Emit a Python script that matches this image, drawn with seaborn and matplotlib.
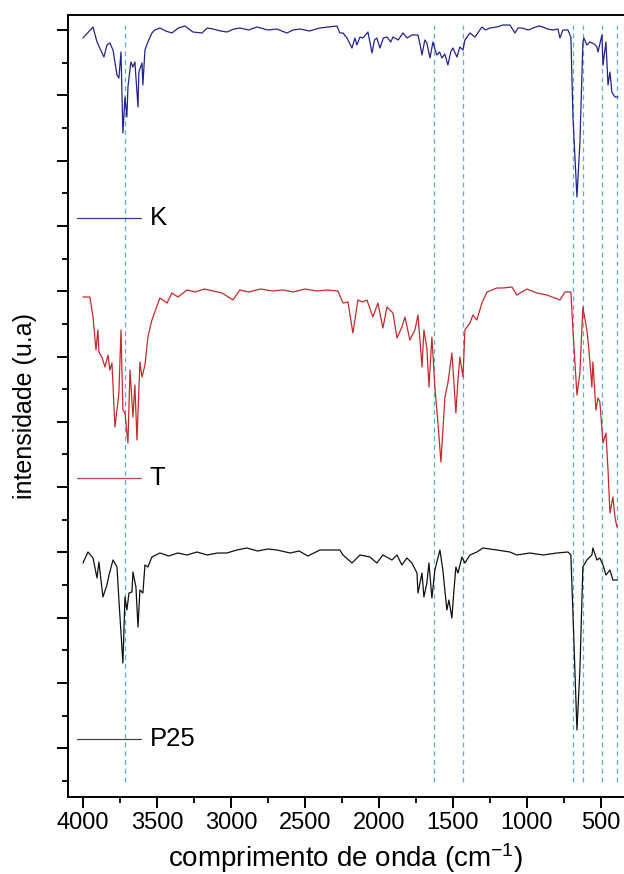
import numpy as np
import pandas as pd
import matplotlib
matplotlib.use("Agg")
import matplotlib.pyplot as plt
import seaborn as sns
from matplotlib.ticker import FixedLocator

# ---------------- data ----------------
samples = ["K", "T", "P25"]

k_wn = [4000, 3932, 3905, 3858, 3838, 3818, 3797, 3770, 3757, 3743, 3730, 3716, 3703, 3696,
        3676, 3662, 3649, 3628, 3622, 3601, 3595, 3581, 3561, 3534, 3514, 3480, 3440, 3399,
        3355, 3311, 3257, 3196, 3160, 3122, 3070, 3027, 2980, 2939, 2880, 2824, 2750, 2690,
        2622, 2580, 2534, 2470, 2399, 2340, 2284, 2264, 2243, 2216, 2182, 2162, 2149, 2128,
        2108, 2074, 2047, 2030, 2014, 1993, 1970, 1946, 1920, 1905, 1870, 1838, 1810, 1777,
        1736, 1720, 1709, 1690, 1676, 1655, 1635, 1620, 1608, 1590, 1574, 1555, 1534, 1515,
        1500, 1473, 1453, 1432, 1419, 1385, 1351, 1304, 1280, 1250, 1203, 1162, 1115, 1081,
        1060, 1034, 990, 959, 920, 892, 860, 824, 790, 777, 757, 723, 703, 689, 662, 642,
        622, 615, 595, 574, 545, 527, 520, 493, 486, 466, 452, 439, 426, 405, 385]
k_int = [762, 773, 758, 743, 755, 757, 750, 725, 722, 748, 667, 703, 683, 713,
         738, 733, 738, 693, 728, 737, 715, 750, 758, 767, 770, 772, 769, 767,
         772, 774, 768, 767, 772, 771, 769, 768, 771, 772, 770, 773, 770, 771,
         767, 770, 771, 769, 772, 773, 774, 767, 767, 762, 752, 762, 755, 763,
         762, 768, 747, 760, 762, 752, 762, 763, 758, 763, 760, 767, 762, 765,
         765, 754, 745, 760, 757, 742, 758, 750, 745, 748, 742, 746, 735, 748,
         752, 743, 753, 750, 760, 767, 763, 773, 770, 772, 773, 775, 775, 767,
         772, 772, 770, 772, 774, 773, 771, 770, 771, 762, 770, 770, 763, 683, 603, 657,
         757, 762, 755, 758, 756, 753, 748, 765, 735, 758, 715, 728, 708, 703, 703]

t_wn = [4000, 3953, 3932, 3912, 3899, 3892, 3872, 3851, 3831, 3818, 3804, 3784, 3770, 3757,
        3743, 3730, 3716, 3696, 3682, 3662, 3649, 3635, 3615, 3601, 3581, 3561, 3534, 3514,
        3480, 3432, 3399, 3358, 3297, 3240, 3180, 3120, 3060, 2986, 2940, 2880, 2800, 2720,
        2650, 2580, 2500, 2420, 2350, 2277, 2243, 2209, 2176, 2142, 2110, 2081, 2041, 2007,
        1973, 1946, 1905, 1878, 1845, 1824, 1791, 1757, 1736, 1709, 1696, 1676, 1662, 1642,
        1622, 1601, 1581, 1554, 1534, 1507, 1493, 1480, 1466, 1453, 1432, 1419, 1385, 1365,
        1338, 1304, 1270, 1203, 1162, 1101, 1068, 1000, 932, 865, 777, 743, 703, 689, 662,
        642, 622, 595, 581, 561, 554, 534, 520, 507, 486, 466, 452, 439, 419, 405, 392]
t_int = [503, 503, 483, 450, 470, 448, 443, 433, 445, 430, 437, 373, 390, 407,
         470, 390, 387, 357, 430, 383, 415, 360, 438, 423, 435, 463, 480, 488,
         502, 497, 507, 503, 510, 508, 511, 509, 507, 500, 510, 508, 511, 509,
         510, 508, 511, 509, 510, 509, 497, 498, 467, 500, 498, 500, 483, 497,
         472, 493, 487, 462, 473, 483, 460, 470, 485, 433, 470, 452, 413, 463,
         413, 377, 338, 403, 417, 447, 417, 387, 420, 443, 423, 470, 477, 485,
         480, 497, 508, 512, 512, 513, 505, 511, 507, 505, 500, 508, 508, 470, 405,
         427, 493, 470, 450, 413, 438, 390, 402, 398, 357, 367, 330, 287, 303, 283, 273]

p_wn = [4000, 3966, 3932, 3905, 3892, 3865, 3838, 3824, 3797, 3770, 3757, 3730, 3716, 3703,
        3689, 3669, 3662, 3642, 3628, 3615, 3595, 3581, 3561, 3534, 3480, 3420, 3360, 3297,
        3230, 3160, 3090, 3027, 2960, 2892, 2820, 2750, 2689, 2600, 2540, 2480, 2399, 2330,
        2264, 2243, 2182, 2128, 2061, 2014, 1973, 1912, 1878, 1845, 1811, 1777, 1743, 1736,
        1709, 1696, 1676, 1662, 1642, 1622, 1588, 1568, 1541, 1527, 1507, 1493, 1480, 1466,
        1439, 1419, 1385, 1338, 1297, 1203, 1115, 1068, 980, 892, 797, 723, 703, 689, 662,
        642, 622, 595, 561, 554, 527, 507, 486, 466, 439, 419, 392]
p_int = [237, 248, 242, 222, 238, 203, 215, 225, 240, 233, 200, 137, 203, 190,
         207, 208, 228, 213, 173, 210, 207, 235, 233, 243, 247, 244, 247, 245,
         248, 245, 247, 247, 250, 252, 249, 251, 250, 247, 249, 244, 250, 250,
         250, 245, 237, 245, 243, 237, 245, 240, 245, 235, 242, 237, 227, 207,
         227, 203, 217, 237, 202, 230, 250, 230, 190, 200, 182, 210, 233, 227,
         243, 237, 245, 248, 252, 250, 248, 245, 247, 245, 247, 248, 245, 187, 70,
         130, 233, 240, 245, 252, 240, 242, 235, 225, 230, 220, 220]

band_positions = [3716, 1630, 1430, 690, 622, 495, 393]
x_ticks = [4000, 3500, 3000, 2500, 2000, 1500, 1000, 500]
x_tick_labels = ["4000", "3500", "3000", "2500", "2000", "1500", "1000", "500"]

colors = {"K": "#23238a", "T": "#c42a2a", "P25": "#111111"}
legend_colors = {"K": "#3b3b9c", "T": "#b94848", "P25": "#444444"}

# ---------------- build table ----------------
df = pd.concat([
    pd.DataFrame({"wn": k_wn, "intensity": k_int, "sample": "K"}),
    pd.DataFrame({"wn": t_wn, "intensity": t_int, "sample": "T"}),
    pd.DataFrame({"wn": p_wn, "intensity": p_int, "sample": "P25"}),
], ignore_index=True)

# ---------------- style ----------------
sns.set_style("ticks")
plt.rcParams["font.family"] = ["Liberation Sans", "DejaVu Sans"]
plt.rcParams["mathtext.fontset"] = "custom"
plt.rcParams["mathtext.rm"] = "Liberation Sans"
plt.rcParams["mathtext.it"] = "Liberation Sans:italic"
plt.rcParams["mathtext.bf"] = "Liberation Sans:bold"
plt.rcParams["text.color"] = "black"
plt.rcParams["axes.labelcolor"] = "black"

W, H = 624, 874
fig = plt.figure(figsize=(W / 100, H / 100), dpi=100)
ax = fig.add_axes([68 / W, 1 - 797 / H, (W - 68) / W, (797 - 15) / H])

for bp in band_positions:
    ax.axvline(bp, ymin=(18 - 3) / 782, ymax=(775 - 3) / 782, color="#62acd8",
               linestyle=(0, (4, 3)), linewidth=0.9, zorder=1, snap=True)

sns.lineplot(data=df, x="wn", y="intensity", hue="sample", palette=colors,
             estimator=None, sort=False, legend=False, linewidth=0.9, ax=ax, zorder=2)

ax.set_xlim(4101, 344)
ax.set_ylim(3, 785)

ax.set_xticks(x_ticks)
ax.set_xticklabels(x_tick_labels)
ax.xaxis.set_minor_locator(FixedLocator([3750, 3250, 2750, 2250, 1750, 1250, 750]))
major_y = [770 - 65.3 * i for i in range(12)]
minor_y = [737.35 - 65.3 * i for i in range(12)]
ax.yaxis.set_major_locator(FixedLocator(major_y))
ax.yaxis.set_minor_locator(FixedLocator(minor_y))

ax.tick_params(axis="both", which="major", direction="out", length=8, width=1.4,
               labelsize=17, pad=3, color="black", labelcolor="black")
ax.tick_params(axis="both", which="minor", direction="out", length=4.5, width=1.3, color="black")
ax.tick_params(axis="y", which="both", labelleft=False)

for side in ["left", "bottom", "top"]:
    ax.spines[side].set_linewidth(1.4)
    ax.spines[side].set_color("black")
ax.spines["right"].set_visible(False)

ax.set_xlabel(r"comprimento de onda (cm$\mathregular{^{-1}}$)", fontsize=20, labelpad=5, color="black")
ax.set_ylabel("intensidade (u.a)", fontsize=18, labelpad=14, color="black")

# legend-style labels (Origin style)
for name, yf in [("K", 0.740), ("T", 0.408), ("P25", 0.0742)]:
    ax.plot([0.0162, 0.131], [yf, yf], transform=ax.transAxes, color=legend_colors[name], lw=0.9)
    ax.text(0.147, yf, name, transform=ax.transAxes, fontsize=18.5, va="center", ha="left",
            color="black")

fig.savefig("out.png", dpi=100)
